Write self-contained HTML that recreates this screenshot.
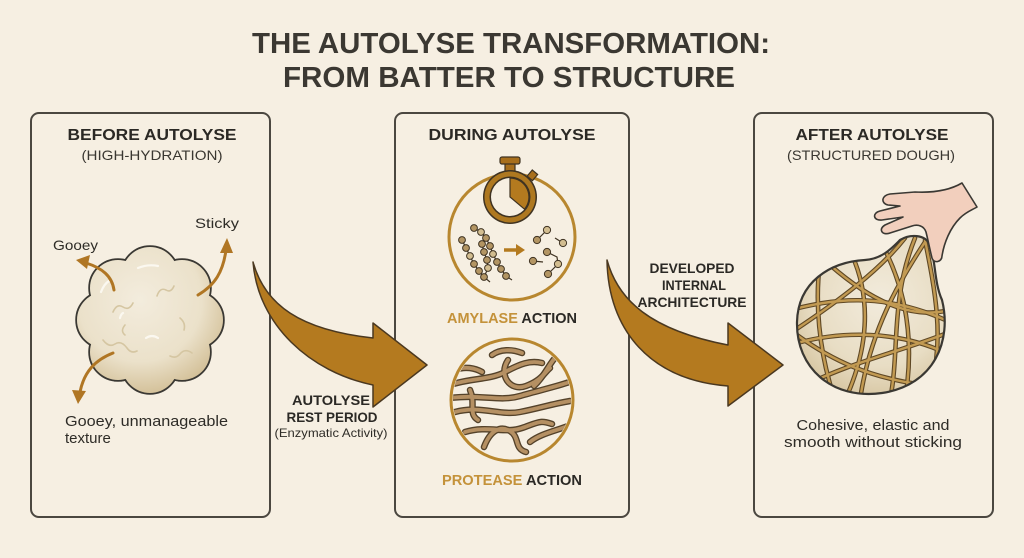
<!DOCTYPE html>
<html><head><meta charset="utf-8"><style>
html,body{margin:0;padding:0;background:#f6efe2;}
svg{display:block;}
text{font-family:"Liberation Sans",Arial,sans-serif;}
</style></head><body>
<svg width="1024" height="558" viewBox="0 0 1024 558" xmlns="http://www.w3.org/2000/svg">
<defs>
<radialGradient id="blobG" gradientUnits="userSpaceOnUse" cx="140" cy="300" r="95">
<stop offset="0" stop-color="#f3ecdd"/><stop offset="0.65" stop-color="#ebe1ca"/><stop offset="1" stop-color="#d3c098"/>
</radialGradient>
<radialGradient id="ballG" gradientUnits="userSpaceOnUse" cx="880" cy="300" r="110">
<stop offset="0" stop-color="#f2ebdc"/><stop offset="0.6" stop-color="#e8ddc4"/><stop offset="1" stop-color="#d2bf98"/>
</radialGradient>
<clipPath id="ballClip"><path d="M900,240 C910,234 925,234 930,245 C936,262 934,282 942,300 C952,340 935,385 882,393 C832,400 796,368 797,322 C798,282 830,262 865,260 C882,259 892,248 900,240 Z"/></clipPath>
<clipPath id="protClip"><circle cx="512" cy="400" r="59"/></clipPath>
</defs>
<rect width="1024" height="558" fill="#f6efe2"/>

<!-- Title -->
<text x="511" y="53" font-size="29" font-weight="bold" fill="#3b3832" text-anchor="middle" textLength="518" lengthAdjust="spacingAndGlyphs">THE AUTOLYSE TRANSFORMATION:</text>
<text x="509" y="87" font-size="29" font-weight="bold" fill="#3b3832" text-anchor="middle" textLength="452" lengthAdjust="spacingAndGlyphs">FROM BATTER TO STRUCTURE</text>

<!-- Panels -->
<rect x="31" y="113" width="239" height="404" rx="8" fill="none" stroke="#4b4740" stroke-width="2"/>
<rect x="395" y="113" width="234" height="404" rx="8" fill="none" stroke="#4b4740" stroke-width="2"/>
<rect x="754" y="113" width="239" height="404" rx="8" fill="none" stroke="#4b4740" stroke-width="2"/>

<!-- Panel 1 -->
<text x="152" y="140" font-size="16" font-weight="bold" fill="#2b2925" text-anchor="middle" textLength="169" lengthAdjust="spacingAndGlyphs">BEFORE AUTOLYSE</text>
<text x="152" y="160" font-size="14" fill="#3a3731" text-anchor="middle" textLength="141" lengthAdjust="spacingAndGlyphs">(HIGH-HYDRATION)</text>
<text x="53" y="250" font-size="14" fill="#2e2c27" textLength="45" lengthAdjust="spacingAndGlyphs">Gooey</text>
<text x="195" y="228" font-size="14" fill="#2e2c27" textLength="44" lengthAdjust="spacingAndGlyphs">Sticky</text>

<!-- blob -->
<g stroke="#3a3833" stroke-width="3.5" fill="url(#blobG)">
<circle cx="150" cy="320" r="52"/>
<circle cx="195" cy="320" r="28"/><circle cx="182" cy="352" r="28"/><circle cx="150" cy="365" r="28"/><circle cx="118" cy="352" r="28"/>
<circle cx="105" cy="320" r="28"/><circle cx="118" cy="288" r="28"/><circle cx="150" cy="275" r="28"/><circle cx="182" cy="288" r="28"/>
</g>
<g fill="url(#blobG)">
<circle cx="150" cy="320" r="52"/>
<circle cx="195" cy="320" r="28"/><circle cx="182" cy="352" r="28"/><circle cx="150" cy="365" r="28"/><circle cx="118" cy="352" r="28"/>
<circle cx="105" cy="320" r="28"/><circle cx="118" cy="288" r="28"/><circle cx="150" cy="275" r="28"/><circle cx="182" cy="288" r="28"/>
</g>
<g fill="none" stroke="#d5c6a2" stroke-width="1.6" stroke-linecap="round">
<path d="M113,312 q4,-9 10,-5 q6,4 10,-4"/>
<path d="M157,296 q3,-9 9,-6 q5,3 8,-4"/>
<path d="M103,340 q6,8 12,4 q6,-4 12,4 q4,6 10,3"/>
<path d="M170,356 q6,3 10,-2 q5,-6 12,-1"/>
<path d="M180,318 q6,5 4,12"/>
<path d="M125,325 q-5,6 0,10"/>
</g>
<g fill="none" stroke="#fbf8f0" stroke-width="2.2" stroke-linecap="round">
<path d="M101,292 q3,-8 8,-11"/>
<path d="M138,268 q10,-4 20,-2"/>
<path d="M146,338 q6,-4 12,0"/>
<path d="M120,318 q1,-4 3,-5"/>
</g>
<!-- small arrows -->
<g fill="none" stroke="#b07624" stroke-width="3" stroke-linecap="round">
<path d="M114,290 C112,276 102,268 86,263"/>
<path d="M198,295 C215,285 223,272 226,250"/>
<path d="M113,353 C95,360 84,372 80,392"/>
</g>
<g fill="#b07624">
<path d="M76,260 L90,255 L87,269 Z"/>
<path d="M227,238 L220,253 L233,253 Z"/>
<path d="M78,404 L72,390 L86,391 Z"/>
</g>
<text x="65" y="426" font-size="15" fill="#2e2c27" textLength="163" lengthAdjust="spacingAndGlyphs">Gooey, unmanageable</text>
<text x="65" y="443" font-size="15" fill="#2e2c27">texture</text>

<!-- Panel 2 -->
<text x="512" y="140" font-size="16" font-weight="bold" fill="#2b2925" text-anchor="middle" textLength="167" lengthAdjust="spacingAndGlyphs">DURING AUTOLYSE</text>
<circle cx="512" cy="237" r="63" fill="none" stroke="#b8872f" stroke-width="3"/>
<!-- stopwatch -->
<rect x="505" y="163" width="10" height="9" fill="#a86f1c" stroke="#3f3322" stroke-width="1.2"/>
<rect x="500" y="157" width="20" height="7" rx="2" fill="#a86f1c" stroke="#3f3322" stroke-width="1.2"/>
<rect x="529" y="171" width="7" height="8" fill="#a86f1c" stroke="#3f3322" stroke-width="1.2" transform="rotate(40 532 175)"/>
<circle cx="510" cy="197" r="27" fill="#3f3322"/>
<circle cx="510" cy="197" r="25.5" fill="#ae7820"/>
<circle cx="510" cy="197" r="20.5" fill="#3f3322"/>
<circle cx="510" cy="197" r="19" fill="#f6efe2"/>
<path d="M510,197 L510,178 A19,19 0 0 1 524.5,209.2 Z" fill="#b47a1f" stroke="#3f3322" stroke-width="1.2"/>
<!-- amylase chains -->
<g stroke="#3f3322" stroke-width="1.2" fill="none">
<path d="M474,228 L481,232 L486,238 L490,246 L493,254 L497,262 L501,269 L506,276 L512,280"/>
<path d="M462,240 L466,248 L470,256 L474,264 L479,271 L484,277 L490,282"/>
<path d="M482,244 L484,252 L487,260 L488,268 L485,275"/>
<path d="M537,240 L547,230"/><path d="M563,243 L555,238"/>
<path d="M547,252 L557,257 L558,264 L548,274"/><path d="M533,261 L543,262"/>
</g>
<g stroke="#3f3322" stroke-width="1" fill="#b39563">
<circle cx="474" cy="228" r="3.4"/><circle cx="481" cy="232" r="3.4" fill="#d2bd90"/><circle cx="486" cy="238" r="3.4"/><circle cx="490" cy="246" r="3.4"/><circle cx="493" cy="254" r="3.4" fill="#d2bd90"/><circle cx="497" cy="262" r="3.4"/><circle cx="501" cy="269" r="3.4"/><circle cx="506" cy="276" r="3.4"/>
<circle cx="462" cy="240" r="3.4"/><circle cx="466" cy="248" r="3.4"/><circle cx="470" cy="256" r="3.4" fill="#d2bd90"/><circle cx="474" cy="264" r="3.4"/><circle cx="479" cy="271" r="3.4"/><circle cx="484" cy="277" r="3.4"/>
<circle cx="482" cy="244" r="3.4"/><circle cx="484" cy="252" r="3.4"/><circle cx="487" cy="260" r="3.4"/><circle cx="488" cy="268" r="3.4" fill="#d2bd90"/>
<circle cx="547" cy="230" r="3.6" fill="#d2bd90"/><circle cx="537" cy="240" r="3.6"/><circle cx="563" cy="243" r="3.6" fill="#d2bd90"/>
<circle cx="547" cy="252" r="3.6"/><circle cx="558" cy="264" r="3.6" fill="#d2bd90"/><circle cx="548" cy="274" r="3.6"/><circle cx="533" cy="261" r="3.6"/>
</g>
<path d="M504,250 L518,250" stroke="#b47a1f" stroke-width="3.5"/>
<path d="M516,244 L525,250 L516,256 Z" fill="#b47a1f"/>
<text x="512" y="323" font-size="15" font-weight="bold" text-anchor="middle" textLength="130" lengthAdjust="spacingAndGlyphs"><tspan fill="#c4923a">AMYLASE</tspan><tspan fill="#2b2925"> ACTION</tspan></text>

<!-- protease -->
<circle cx="512" cy="400" r="61" fill="none" stroke="#b8872f" stroke-width="3"/>
<g clip-path="url(#protClip)" fill="none" stroke-linecap="round">
<g stroke="#54422a" stroke-width="6.5">
<path d="M450,385 C470,378 490,380 505,372 S530,360 542,363"/>
<path d="M492,355 C500,349 512,349 522,353"/>
<path d="M508,360 C498,375 510,392 526,386 S545,372 550,368"/>
<path d="M450,398 C480,394 500,402 520,396 S560,386 575,380"/>
<path d="M455,412 C480,405 500,416 520,412 S552,404 570,401"/>
<path d="M470,390 C476,404 468,414 478,420"/>
<path d="M465,432 C488,425 505,434 522,428 S540,420 552,424"/>
<path d="M484,447 C490,431 500,425 510,431 S514,449 526,452"/>
<path d="M530,442 C540,434 555,431 568,426"/>
<path d="M534,386 C545,376 550,362 556,357"/>
<path d="M455,370 C465,366 475,368 482,372"/>
</g>
<g stroke="#b59063" stroke-width="3.8">
<path d="M450,385 C470,378 490,380 505,372 S530,360 542,363"/>
<path d="M492,355 C500,349 512,349 522,353"/>
<path d="M508,360 C498,375 510,392 526,386 S545,372 550,368"/>
<path d="M450,398 C480,394 500,402 520,396 S560,386 575,380"/>
<path d="M455,412 C480,405 500,416 520,412 S552,404 570,401"/>
<path d="M470,390 C476,404 468,414 478,420"/>
<path d="M465,432 C488,425 505,434 522,428 S540,420 552,424"/>
<path d="M484,447 C490,431 500,425 510,431 S514,449 526,452"/>
<path d="M530,442 C540,434 555,431 568,426"/>
<path d="M534,386 C545,376 550,362 556,357"/>
<path d="M455,370 C465,366 475,368 482,372"/>
</g>
</g>
<text x="512" y="485" font-size="15" font-weight="bold" text-anchor="middle" textLength="140" lengthAdjust="spacingAndGlyphs"><tspan fill="#c4923a">PROTEASE</tspan><tspan fill="#2b2925"> ACTION</tspan></text>

<!-- Big arrow 1 -->
<path d="M253,262 C265,305 300,330 373,338 L373,323 L427,365 L373,407 L373,385 C310,372 258,325 253,262 Z" fill="#b47a1f" stroke="#4a3820" stroke-width="1.5" stroke-linejoin="round"/>
<text x="331" y="405" font-size="14" font-weight="bold" fill="#2b2925" text-anchor="middle" textLength="78" lengthAdjust="spacingAndGlyphs">AUTOLYSE</text>
<text x="332" y="422" font-size="14" font-weight="bold" fill="#2b2925" text-anchor="middle" textLength="91" lengthAdjust="spacingAndGlyphs">REST PERIOD</text>
<text x="331" y="437" font-size="12" fill="#2e2c27" text-anchor="middle" textLength="113" lengthAdjust="spacingAndGlyphs">(Enzymatic Activity)</text>

<!-- Big arrow 2 -->
<path d="M607,260 C618,300 650,330 728,345 L728,323 L783,365 L728,406 L728,386 C650,380 608,330 607,260 Z" fill="#b47a1f" stroke="#4a3820" stroke-width="1.5" stroke-linejoin="round"/>
<text x="692" y="273" font-size="14" font-weight="bold" fill="#2b2925" text-anchor="middle" textLength="85" lengthAdjust="spacingAndGlyphs">DEVELOPED</text>
<text x="694" y="290" font-size="14" font-weight="bold" fill="#2b2925" text-anchor="middle" textLength="64" lengthAdjust="spacingAndGlyphs">INTERNAL</text>
<text x="692" y="307" font-size="14" font-weight="bold" fill="#2b2925" text-anchor="middle" textLength="109" lengthAdjust="spacingAndGlyphs">ARCHITECTURE</text>

<!-- Panel 3 -->
<text x="872" y="140" font-size="16" font-weight="bold" fill="#2b2925" text-anchor="middle" textLength="153" lengthAdjust="spacingAndGlyphs">AFTER AUTOLYSE</text>
<text x="871" y="160" font-size="14" fill="#3a3731" text-anchor="middle" textLength="168" lengthAdjust="spacingAndGlyphs">(STRUCTURED DOUGH)</text>

<path d="M900,240 C910,234 925,234 930,245 C936,262 934,282 942,300 C952,340 935,385 882,393 C832,400 796,368 797,322 C798,282 830,262 865,260 C882,259 892,248 900,240 Z" fill="url(#ballG)"/>
<g clip-path="url(#ballClip)" fill="none" stroke-linecap="round">
<g stroke="#5f4825" stroke-width="4.6">
<path d="M820,262 C815,300 818,350 835,400"/>
<path d="M852,255 C872,300 868,350 845,400"/>
<path d="M885,250 C905,290 915,340 905,400"/>
<path d="M925,240 C935,290 945,340 930,390"/>
<path d="M790,310 C830,300 880,290 950,322"/>
<path d="M790,345 C840,330 900,330 950,355"/>
<path d="M800,388 C850,362 900,352 950,332"/>
<path d="M830,265 C870,300 910,320 950,310"/>
<path d="M790,330 C830,360 870,380 940,387"/>
<path d="M905,238 C880,270 840,300 795,330"/>
<path d="M925,242 C900,280 870,330 860,400"/>
<path d="M915,238 C890,300 900,350 890,400"/>
</g>
<g stroke="#c29a52" stroke-width="2.4">
<path d="M820,262 C815,300 818,350 835,400"/>
<path d="M852,255 C872,300 868,350 845,400"/>
<path d="M885,250 C905,290 915,340 905,400"/>
<path d="M925,240 C935,290 945,340 930,390"/>
<path d="M790,310 C830,300 880,290 950,322"/>
<path d="M790,345 C840,330 900,330 950,355"/>
<path d="M800,388 C850,362 900,352 950,332"/>
<path d="M830,265 C870,300 910,320 950,310"/>
<path d="M790,330 C830,360 870,380 940,387"/>
<path d="M905,238 C880,270 840,300 795,330"/>
<path d="M925,242 C900,280 870,330 860,400"/>
<path d="M915,238 C890,300 900,350 890,400"/>
</g>
</g>
<path d="M900,240 C910,234 925,234 930,245 C936,262 934,282 942,300 C952,340 935,385 882,393 C832,400 796,368 797,322 C798,282 830,262 865,260 C882,259 892,248 900,240 Z" fill="none" stroke="#3a3833" stroke-width="2.2"/>
<!-- hand -->
<path d="M962,183 C950,190 935,193 915,192 L890,194 C882,195 880,203 888,205 L900,206 L880,211 C872,213 873,221 882,220 L903,217 L885,225 C878,229 882,236 890,233 L912,226 C918,224 924,226 926,232 C928,240 930,250 932,258 C934,264 942,262 942,256 C944,243 950,228 960,218 C966,212 972,210 977,207 Z" fill="#f2cfbd" stroke="#3a3833" stroke-width="1.6" stroke-linejoin="round"/>

<text x="873" y="430" font-size="15" fill="#2e2c27" text-anchor="middle" textLength="153" lengthAdjust="spacingAndGlyphs">Cohesive, elastic and</text>
<text x="873" y="447" font-size="15" fill="#2e2c27" text-anchor="middle" textLength="178" lengthAdjust="spacingAndGlyphs">smooth without sticking</text>
</svg>
</body></html>
